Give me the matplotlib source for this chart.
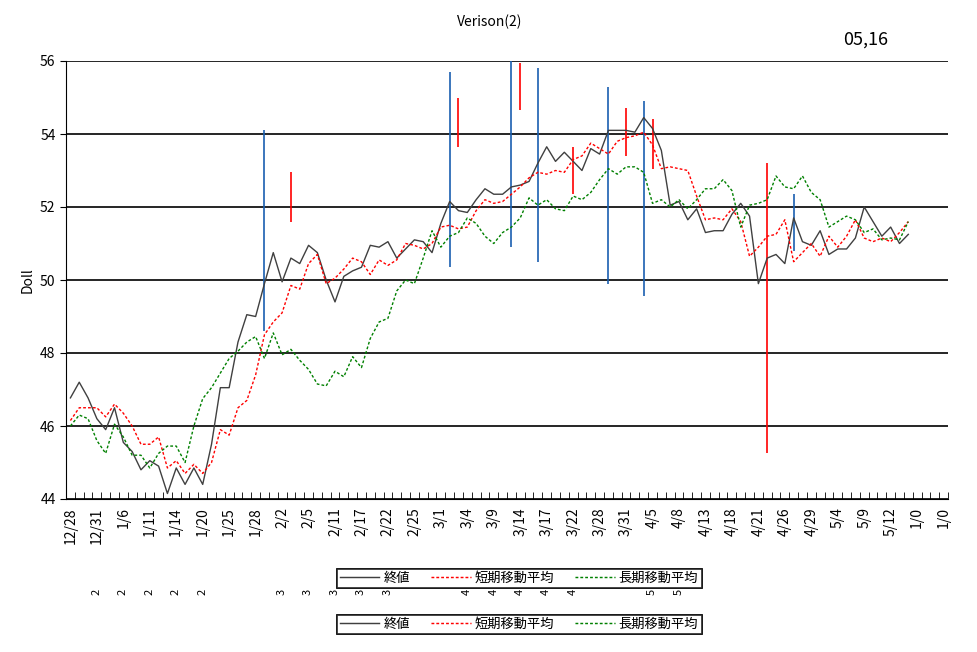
import matplotlib
matplotlib.use("Agg")
import matplotlib.pyplot as plt
import numpy as np

plt.rcParams["font.family"] = ["Noto Sans CJK JP", "DejaVu Sans"]

# x categories (100 slots, labelled every 3rd)
tick_labels = ["12/28", "12/31", "1/6", "1/11", "1/14", "1/20", "1/25", "1/28", "2/2", "2/5",
               "2/11", "2/17", "2/22", "2/25", "3/1", "3/4", "3/9", "3/14", "3/17", "3/22",
               "3/28", "3/31", "4/5", "4/8", "4/13", "4/18", "4/21", "4/26", "4/29", "5/4",
               "5/9", "5/12", "1/0", "1/0"]
n_slots = 100

close = [46.77, 47.2, 46.77, 46.2, 45.9, 46.5, 45.55, 45.3, 44.8, 45.05,
         44.9, 44.15, 44.85, 44.4, 44.85, 44.4, 45.5, 47.05, 47.05, 48.3,
         49.05, 49.0, 49.9, 50.75, 49.95, 50.6, 50.45, 50.95, 50.75, 50.0,
         49.4, 50.1, 50.25, 50.35, 50.95, 50.9, 51.05, 50.6, 50.85, 51.1,
         51.05, 50.75, 51.55, 52.15, 51.9, 51.85, 52.2, 52.5, 52.35, 52.35,
         52.55, 52.6, 52.7, 53.2, 53.65, 53.25, 53.5, 53.25, 53.0, 53.6,
         53.45, 54.1, 54.1, 54.1, 54.05, 54.45, 54.15, 53.55, 52.05, 52.15,
         51.65, 51.95, 51.3, 51.35, 51.35, 51.8, 52.1, 51.75, 49.9, 50.6,
         50.7, 50.45, 51.7, 51.05, 50.95, 51.35, 50.7, 50.85, 50.85, 51.15,
         52.0, 51.6, 51.2, 51.45, 51.0, 51.25]

short_ma = [46.15, 46.5, 46.5, 46.5, 46.25, 46.6, 46.35, 46.0, 45.5, 45.5,
            45.7, 44.85, 45.05, 44.7, 44.95, 44.7, 45.0, 45.9, 45.75, 46.5,
            46.7, 47.4, 48.5, 48.85, 49.1, 49.85, 49.75, 50.45, 50.7, 49.9,
            50.05, 50.3, 50.6, 50.5, 50.15, 50.55, 50.4, 50.55, 51.0, 50.95,
            50.85, 51.0, 51.45, 51.5, 51.4, 51.45, 51.9, 52.2, 52.1, 52.15,
            52.35, 52.55, 52.8, 52.95, 52.9, 53.0, 52.95, 53.3, 53.4, 53.75,
            53.6, 53.45, 53.8, 53.9, 53.95, 54.05, 53.7, 53.05, 53.1, 53.05,
            53.0, 52.3, 51.65, 51.7, 51.65, 51.95, 51.6, 50.65, 50.9, 51.2,
            51.25, 51.65, 50.5, 50.75, 51.0, 50.65, 51.2, 50.9, 51.2, 51.65,
            51.15, 51.05, 51.15, 51.05, 51.3, 51.6]

long_ma = [46.0, 46.3, 46.2, 45.6, 45.25, 46.05, 45.7, 45.2, 45.2, 44.85,
           45.25, 45.45, 45.45, 45.0, 46.0, 46.75, 47.05, 47.45, 47.85, 48.05,
           48.3, 48.45, 47.85, 48.55, 47.95, 48.1, 47.8, 47.55, 47.15, 47.1,
           47.5, 47.35, 47.9, 47.6, 48.4, 48.85, 48.95, 49.7, 50.0, 49.9,
           50.6, 51.35, 50.9, 51.2, 51.3, 51.7, 51.55, 51.2, 51.0, 51.3,
           51.45, 51.7, 52.25, 52.05, 52.2, 51.95, 51.9, 52.3, 52.2, 52.4,
           52.75, 53.05, 52.9, 53.1, 53.1, 52.95, 52.1, 52.2, 52.0, 52.2,
           51.95, 52.2, 52.5, 52.5, 52.75, 52.45, 51.45, 52.05, 52.1, 52.2,
           52.85, 52.55, 52.5, 52.85, 52.4, 52.2, 51.45, 51.6, 51.75, 51.65,
           51.3, 51.4, 51.1, 51.15, 51.1, 51.6]

# high/low bars: index, low, high, colour
bar_idx = [22, 25, 43, 44, 50, 51, 53, 57, 61, 63, 65, 66, 79, 82]
bar_low = [48.6, 51.6, 50.35, 53.65, 50.9, 54.65, 50.5, 52.35, 49.9, 53.4, 49.55, 53.05, 45.25, 50.8]
bar_high = [54.1, 52.95, 55.7, 55.0, 56.3, 55.95, 55.8, 53.65, 55.3, 54.7, 54.9, 54.4, 53.2, 52.35]
bar_color = ["#1a5fb0", "red", "#1a5fb0", "red", "#1a5fb0", "red", "#1a5fb0", "red",
             "#1a5fb0", "red", "#1a5fb0", "red", "red", "#1a5fb0"]

fig = plt.figure(figsize=(9.77, 6.52), dpi=100)
ax = fig.add_axes([66 / 977, 1 - 499 / 652, 882 / 977, 438 / 652])

x = np.arange(len(close))
ax.vlines(bar_idx, bar_low, bar_high, colors=bar_color, lw=1.2, zorder=2)
ax.plot(x, close, color="#404040", lw=1, label="終値", zorder=3)
ax.plot(x, short_ma, color="red", lw=1, ls=(0, (2, 1.5)), label="短期移動平均", zorder=3)
ax.plot(x, long_ma, color="green", lw=1, ls=(0, (2, 1.5)), label="長期移動平均", zorder=3)

ax.set_xlim(-0.5, n_slots - 0.5)
ax.set_ylim(44, 56)
ax.set_yticks(np.arange(44, 57, 2))
ax.yaxis.grid(True, color="black", lw=1.2)
ax.set_axisbelow(True)
ax.set_xticks(np.arange(0, n_slots, 3))
ax.set_xticklabels(tick_labels, rotation=90, fontsize=10)
ax.set_xticks(np.arange(-0.5, n_slots, 1), minor=True)
ax.tick_params(axis="x", which="major", length=0, pad=6)
ax.tick_params(axis="x", which="minor", length=5, direction="in")
ax.tick_params(axis="y", labelsize=10, length=4)
for s in ["top", "right"]:
    ax.spines[s].set_visible(False)
ax.set_ylabel("Doll", fontsize=10)

fig.text(490 / 977, 1 - 22 / 652, "Verison(2)", ha="center", va="center", fontsize=10)
fig.text(866 / 977, 1 - 40 / 652, "05,16", ha="center", va="center", fontsize=13)

# second label row partly hidden
month_idx = [3, 6, 9, 12, 15, 24, 27, 30, 33, 36, 45, 48, 51, 54, 57, 66, 69]
month_txt = ["2"] * 5 + ["3"] * 5 + ["4"] * 5 + ["5"] * 2
for i, t in zip(month_idx, month_txt):
    px = 70 + 8.82 * i
    fig.text(px / 977, 1 - 592 / 652, t, rotation=90, ha="center", va="center", fontsize=8)

handles, labels = ax.get_legend_handles_labels()
for ytop in [562, 608]:
    leg = fig.legend(handles, labels, ncol=3, loc="upper left",
                     bbox_to_anchor=(330 / 977, 1 - ytop / 652), fontsize=9.5,
                     frameon=True, fancybox=False, edgecolor="black", borderpad=0.25,
                     handlelength=3, handletextpad=0.3, columnspacing=1.6)
    leg.get_frame().set_linewidth(1.2)
    fig.add_artist(leg)

fig.savefig("out.png", dpi=100)
